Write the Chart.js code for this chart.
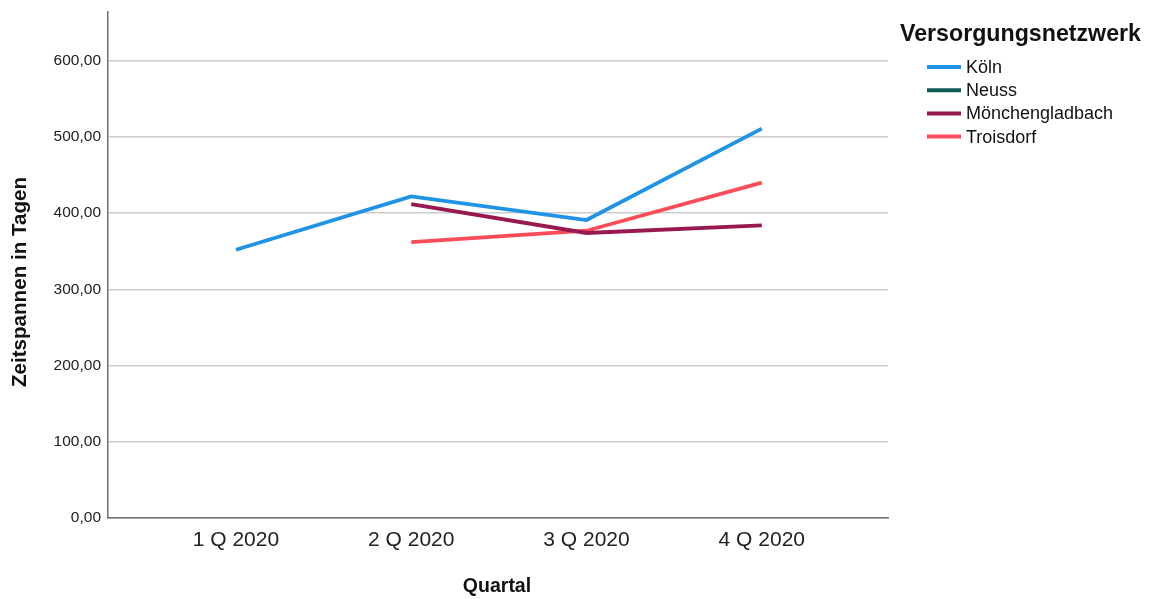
<!DOCTYPE html>
<html lang="de">
<head>
<meta charset="utf-8">
<title>Zeitspannen in Tagen nach Quartal</title>
<script src="https://cdn.jsdelivr.net/npm/chart.js@4/dist/chart.umd.min.js"></script>
<style>
  html, body { margin: 0; padding: 0; background: #ffffff; }
  #wrap { width: 1150px; height: 599px; }
</style>
</head>
<body>
<div id="wrap"><canvas id="c" width="1150" height="599"></canvas></div>
<script>
// Quarters on the x axis (positions 1..4)
const quarterLabels = ['1 Q 2020', '2 Q 2020', '3 Q 2020', '4 Q 2020'];
const quarterPositions = [1, 2, 3, 4];

// Mean time span in days per supply network and quarter (null = no data)
const koeln = [352, 422, 391, 511];
const neuss = [null, null, null, null];
const moenchengladbach = [null, 412, 374, 384];
const troisdorf = [null, 362, 377, 440];

const seriesNames = ['Köln', 'Neuss', 'Mönchengladbach', 'Troisdorf'];
const seriesColors = ['#1f93e6', '#0d5d56', '#98194f', '#fb4c59'];

// y axis ticks
const yTickValues = [0, 100, 200, 300, 400, 500, 600];

const yTitle = 'Zeitspannen in Tagen';
const xTitle = 'Quartal';
const legendTitle = 'Versorgungsnetzwerk';

const FONT = "'Liberation Sans', Arial, sans-serif";

function toPoints(values) {
  return quarterPositions.map((x, i) => ({ x: x, y: values[i] }));
}

const allSeries = [koeln, neuss, moenchengladbach, troisdorf];
const datasets = allSeries.map((vals, i) => ({
  label: seriesNames[i],
  data: toPoints(vals),
  borderColor: seriesColors[i],
  backgroundColor: seriesColors[i],
  borderWidth: 3.8,
  pointRadius: 0,
  pointHoverRadius: 0,
  tension: 0,
  spanGaps: false,
  borderCapStyle: 'butt',
  borderJoinStyle: 'miter'
}));

// Axis titles and the legend block on the right
const annotations = {
  id: 'annotations',
  afterDraw(chart) {
    const ctx = chart.ctx;
    ctx.save();
    ctx.fillStyle = '#111111';

    // y axis title (rotated)
    ctx.font = 'bold 20.6px ' + FONT;
    ctx.textAlign = 'center';
    ctx.textBaseline = 'middle';
    ctx.translate(20, 282);
    ctx.rotate(-Math.PI / 2);
    ctx.fillText(yTitle, 0, 0);
    ctx.setTransform(1, 0, 0, 1, 0, 0);

    // x axis title
    ctx.font = 'bold 19.5px ' + FONT;
    ctx.textAlign = 'center';
    ctx.textBaseline = 'alphabetic';
    ctx.fillText(xTitle, 497, 592);

    // legend title
    ctx.font = 'bold 23.2px ' + FONT;
    ctx.textAlign = 'left';
    ctx.fillText(legendTitle, 900, 41);

    // legend items
    ctx.font = '18px ' + FONT;
    ctx.textBaseline = 'middle';
    chart.data.datasets.forEach((ds, i) => {
      const y = 67 + i * 23.2;
      ctx.strokeStyle = ds.borderColor;
      ctx.lineWidth = 4;
      ctx.beginPath();
      ctx.moveTo(927, y);
      ctx.lineTo(961, y);
      ctx.stroke();
      ctx.fillStyle = '#111111';
      ctx.fillText(ds.label, 966, y + 1);
    });
    ctx.restore();
  }
};

new Chart(document.getElementById('c'), {
  type: 'line',
  data: { datasets: datasets },
  plugins: [annotations],
  options: {
    responsive: false,
    animation: false,
    events: [],
    layout: { padding: { top: 12, right: 262, left: 0, bottom: 0 } },
    plugins: {
      legend: { display: false },
      tooltip: { enabled: false },
      title: { display: false }
    },
    scales: {
      x: {
        type: 'linear',
        min: 0.27,
        max: 4.72,
        afterBuildTicks(axis) {
          axis.ticks = quarterPositions.map(v => ({ value: v }));
        },
        afterFit(axis) { axis.height = 81; },
        grid: { display: false, drawTicks: false },
        border: { display: true, color: '#6f6f6f', width: 1.5 },
        ticks: {
          autoSkip: false,
          maxRotation: 0,
          padding: 10,
          color: '#222222',
          font: { family: FONT, size: 21 },
          callback: (v) => {
            const idx = quarterPositions.indexOf(v);
            return idx >= 0 ? quarterLabels[idx] : '';
          }
        }
      },
      y: {
        min: 0,
        max: 664,
        afterBuildTicks(axis) {
          axis.ticks = yTickValues.map(v => ({ value: v }));
        },
        afterFit(axis) { axis.width = 108; },
        grid: { color: '#cccccc', lineWidth: 1.5, drawTicks: false },
        border: { display: true, color: '#6f6f6f', width: 1.5 },
        ticks: {
          padding: 7,
          color: '#222222',
          font: { family: FONT, size: 15.5, lineHeight: 0.6 },
          callback: (v) => Number(v).toFixed(2).replace('.', ',')
        }
      }
    }
  }
});
</script>
</body>
</html>
